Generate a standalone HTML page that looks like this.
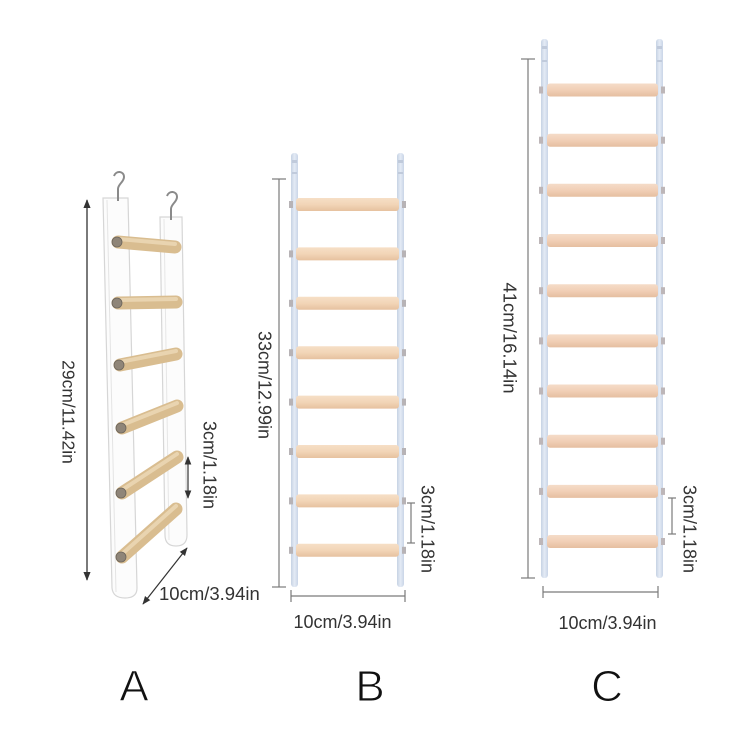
<!DOCTYPE html>
<html><head><meta charset="utf-8"><style>
html,body{margin:0;padding:0;background:#fff;}
svg{display:block;}
text{font-family:"Liberation Sans",sans-serif;fill:#333;}
</style></head><body>
<svg width="750" height="750" viewBox="0 0 750 750" xmlns="http://www.w3.org/2000/svg">
<defs>
<linearGradient id="wb" x1="0" y1="0" x2="0" y2="1">
<stop offset="0" stop-color="#f6dfc6"/><stop offset="0.5" stop-color="#f2d5b7"/><stop offset="1" stop-color="#e6c19f"/>
</linearGradient>
<linearGradient id="wc" x1="0" y1="0" x2="0" y2="1">
<stop offset="0" stop-color="#f5dcc8"/><stop offset="0.5" stop-color="#f1cfb6"/><stop offset="1" stop-color="#e5bea0"/>
</linearGradient>
<linearGradient id="rl" x1="0" y1="0" x2="1" y2="0">
<stop offset="0" stop-color="#c6d2e4"/><stop offset="0.5" stop-color="#e4ebf5"/><stop offset="1" stop-color="#c9d5e7"/>
</linearGradient>
<marker id="ah" viewBox="0 0 10 10" refX="9" refY="5" markerWidth="7" markerHeight="7" orient="auto-start-reverse">
<path d="M0,1 L10,5 L0,9 Z" fill="#333"/>
</marker>
</defs>

<!-- ===== Ladder A ===== -->
<path d="M103,198 L128,198 L137,588 Q137,598 125,598 Q113,598 112,588 Z" fill="#fcfcfc" stroke="#d6d6d6" stroke-width="1.2"/>
<line x1="107" y1="200" x2="116" y2="592" stroke="#e4e4e4" stroke-width="1"/>
<path d="M160,217 L182,217 L187,535 Q187,546 176,546 Q165,546 165,535 Z" fill="#fcfcfc" stroke="#d6d6d6" stroke-width="1.2"/>
<line x1="164" y1="219" x2="169" y2="540" stroke="#e6e6e6" stroke-width="1"/>
<!-- hooks -->
<path d="M118,201 L118,189 C118,184 124,182 124,177 C124,171 116,170 114,176" fill="none" stroke="#8a8a8a" stroke-width="2"/>
<path d="M171,220 L171,209 C171,204 177,202 177,197 C177,191 169,190 167,196" fill="none" stroke="#8a8a8a" stroke-width="2"/>
<!-- rungs A -->
<g stroke-linecap="round">
<line x1="118" y1="242" x2="175" y2="247" stroke="#d9bd90" stroke-width="13"/>
<line x1="118" y1="239" x2="175" y2="244" stroke="#e9d4b0" stroke-width="4"/>
<line x1="118" y1="303" x2="176" y2="302" stroke="#d9bd90" stroke-width="13"/>
<line x1="118" y1="300" x2="176" y2="299" stroke="#e9d4b0" stroke-width="4"/>
<line x1="120" y1="365" x2="176" y2="354" stroke="#d9bd90" stroke-width="13"/>
<line x1="120" y1="362" x2="176" y2="351" stroke="#e9d4b0" stroke-width="4"/>
<line x1="122" y1="428" x2="177" y2="406" stroke="#d9bd90" stroke-width="13"/>
<line x1="122" y1="425" x2="177" y2="403" stroke="#e9d4b0" stroke-width="4"/>
<line x1="122" y1="493" x2="177" y2="457" stroke="#d9bd90" stroke-width="13"/>
<line x1="122" y1="490" x2="177" y2="454" stroke="#e9d4b0" stroke-width="4"/>
<line x1="122" y1="557" x2="176" y2="509" stroke="#d9bd90" stroke-width="13"/>
<line x1="122" y1="554" x2="176" y2="506" stroke="#e9d4b0" stroke-width="4"/>
</g>
<g fill="#8f8578" stroke="#6b645a" stroke-width="0.8">
<circle cx="117" cy="242" r="5"/><circle cx="117" cy="303" r="5"/><circle cx="119" cy="365" r="5"/>
<circle cx="121" cy="428" r="5"/><circle cx="121" cy="493" r="5"/><circle cx="121" cy="557" r="5"/>
</g>
<!-- A dimensions -->
<line x1="87" y1="200" x2="87" y2="580" stroke="#333" stroke-width="1.3" marker-start="url(#ah)" marker-end="url(#ah)"/>
<line x1="188" y1="457" x2="188" y2="498" stroke="#333" stroke-width="1.2" marker-start="url(#ah)" marker-end="url(#ah)"/>
<line x1="143" y1="604" x2="187" y2="548" stroke="#333" stroke-width="1.2" marker-start="url(#ah)" marker-end="url(#ah)"/>
<g transform="translate(69,412) rotate(90)"><text x="0" y="6.3" font-size="17.5" text-anchor="middle">29cm/11.42in</text></g>
<g transform="translate(210,465) rotate(90)"><text x="0" y="6.5" font-size="18" text-anchor="middle">3cm/1.18in</text></g>
<text x="159" y="600" font-size="18.5">10cm/3.94in</text>

<!-- ===== Ladder B ===== -->
<rect x="291" y="153" width="7" height="434" rx="3" fill="url(#rl)"/>
<rect x="397" y="153" width="7" height="434" rx="3" fill="url(#rl)"/>
<g fill="#c0cadb">
<rect x="292" y="160" width="5" height="3"/><rect x="398" y="160" width="5" height="3"/>
<rect x="292" y="172" width="5" height="2"/><rect x="398" y="172" width="5" height="2"/>
</g>
<g fill="url(#wb)">
<rect x="296" y="198" width="103" height="13" rx="3"/>
<rect x="296" y="247.4" width="103" height="13" rx="3"/>
<rect x="296" y="296.8" width="103" height="13" rx="3"/>
<rect x="296" y="346.2" width="103" height="13" rx="3"/>
<rect x="296" y="395.6" width="103" height="13" rx="3"/>
<rect x="296" y="445" width="103" height="13" rx="3"/>
<rect x="296" y="494.4" width="103" height="13" rx="3"/>
<rect x="296" y="543.8" width="103" height="13" rx="3"/>
</g>
<g fill="#b7b3b6">
<rect x="289" y="201" width="4" height="7"/><rect x="402" y="201" width="4" height="7"/>
<rect x="289" y="250.4" width="4" height="7"/><rect x="402" y="250.4" width="4" height="7"/>
<rect x="289" y="299.8" width="4" height="7"/><rect x="402" y="299.8" width="4" height="7"/>
<rect x="289" y="349.2" width="4" height="7"/><rect x="402" y="349.2" width="4" height="7"/>
<rect x="289" y="398.6" width="4" height="7"/><rect x="402" y="398.6" width="4" height="7"/>
<rect x="289" y="448" width="4" height="7"/><rect x="402" y="448" width="4" height="7"/>
<rect x="289" y="497.4" width="4" height="7"/><rect x="402" y="497.4" width="4" height="7"/>
<rect x="289" y="546.8" width="4" height="7"/><rect x="402" y="546.8" width="4" height="7"/>
</g>
<!-- B dimensions -->
<g stroke="#7a7a7a" stroke-width="1.2" fill="none">
<line x1="279" y1="179" x2="279" y2="587"/>
<line x1="272" y1="179" x2="286" y2="179"/>
<line x1="272" y1="587" x2="286" y2="587"/>
<line x1="291" y1="596" x2="405" y2="596"/>
<line x1="291" y1="590" x2="291" y2="602"/>
<line x1="405" y1="590" x2="405" y2="602"/>
<line x1="411" y1="503" x2="411" y2="543"/>
<line x1="407" y1="503" x2="415" y2="503"/>
<line x1="407" y1="543" x2="415" y2="543"/>
</g>
<g transform="translate(265,385) rotate(90)"><text x="0" y="6.5" font-size="18" text-anchor="middle">33cm/12.99in</text></g>
<g transform="translate(428,529) rotate(90)"><text x="0" y="6.5" font-size="18" text-anchor="middle">3cm/1.18in</text></g>
<text x="342.5" y="628" font-size="18" text-anchor="middle">10cm/3.94in</text>

<!-- ===== Ladder C ===== -->
<rect x="541" y="39" width="7" height="539" rx="3" fill="url(#rl)"/>
<rect x="656" y="39" width="7" height="539" rx="3" fill="url(#rl)"/>
<g fill="#c0cadb">
<rect x="542" y="46" width="5" height="3"/><rect x="657" y="46" width="5" height="3"/>
<rect x="542" y="60" width="5" height="2"/><rect x="657" y="60" width="5" height="2"/>
</g>
<g fill="url(#wc)">
<rect x="547" y="83.5" width="111" height="13" rx="3"/>
<rect x="547" y="133.7" width="111" height="13" rx="3"/>
<rect x="547" y="183.8" width="111" height="13" rx="3"/>
<rect x="547" y="234" width="111" height="13" rx="3"/>
<rect x="547" y="284.2" width="111" height="13" rx="3"/>
<rect x="547" y="334.4" width="111" height="13" rx="3"/>
<rect x="547" y="384.5" width="111" height="13" rx="3"/>
<rect x="547" y="434.7" width="111" height="13" rx="3"/>
<rect x="547" y="484.9" width="111" height="13" rx="3"/>
<rect x="547" y="535" width="111" height="13" rx="3"/>
</g>
<g fill="#bdb6b8">
<rect x="539" y="86.5" width="4" height="7"/><rect x="661" y="86.5" width="4" height="7"/>
<rect x="539" y="136.7" width="4" height="7"/><rect x="661" y="136.7" width="4" height="7"/>
<rect x="539" y="186.8" width="4" height="7"/><rect x="661" y="186.8" width="4" height="7"/>
<rect x="539" y="237" width="4" height="7"/><rect x="661" y="237" width="4" height="7"/>
<rect x="539" y="287.2" width="4" height="7"/><rect x="661" y="287.2" width="4" height="7"/>
<rect x="539" y="337.4" width="4" height="7"/><rect x="661" y="337.4" width="4" height="7"/>
<rect x="539" y="387.5" width="4" height="7"/><rect x="661" y="387.5" width="4" height="7"/>
<rect x="539" y="437.7" width="4" height="7"/><rect x="661" y="437.7" width="4" height="7"/>
<rect x="539" y="487.9" width="4" height="7"/><rect x="661" y="487.9" width="4" height="7"/>
<rect x="539" y="538" width="4" height="7"/><rect x="661" y="538" width="4" height="7"/>
</g>
<!-- C dimensions -->
<g stroke="#7a7a7a" stroke-width="1.2" fill="none">
<line x1="528" y1="59" x2="528" y2="578"/>
<line x1="521" y1="59" x2="535" y2="59"/>
<line x1="521" y1="578" x2="535" y2="578"/>
<line x1="543" y1="592" x2="658" y2="592"/>
<line x1="543" y1="586" x2="543" y2="598"/>
<line x1="658" y1="586" x2="658" y2="598"/>
<line x1="672" y1="498" x2="672" y2="534"/>
<line x1="668" y1="498" x2="676" y2="498"/>
<line x1="668" y1="534" x2="676" y2="534"/>
</g>
<g transform="translate(510,338) rotate(90)"><text x="0" y="6.6" font-size="18.5" text-anchor="middle">41cm/16.14in</text></g>
<g transform="translate(690,529) rotate(90)"><text x="0" y="6.5" font-size="18" text-anchor="middle">3cm/1.18in</text></g>
<text x="607.5" y="629" font-size="18" text-anchor="middle">10cm/3.94in</text>

<!-- labels -->
<g font-size="44">
<text x="134" y="701" text-anchor="middle" style="fill:#111;stroke:#fff;stroke-width:1">A</text>
<text x="370" y="701" text-anchor="middle" style="fill:#111;stroke:#fff;stroke-width:1">B</text>
<text x="607" y="701" text-anchor="middle" style="fill:#111;stroke:#fff;stroke-width:1">C</text>
</g>
</svg>
</body></html>
